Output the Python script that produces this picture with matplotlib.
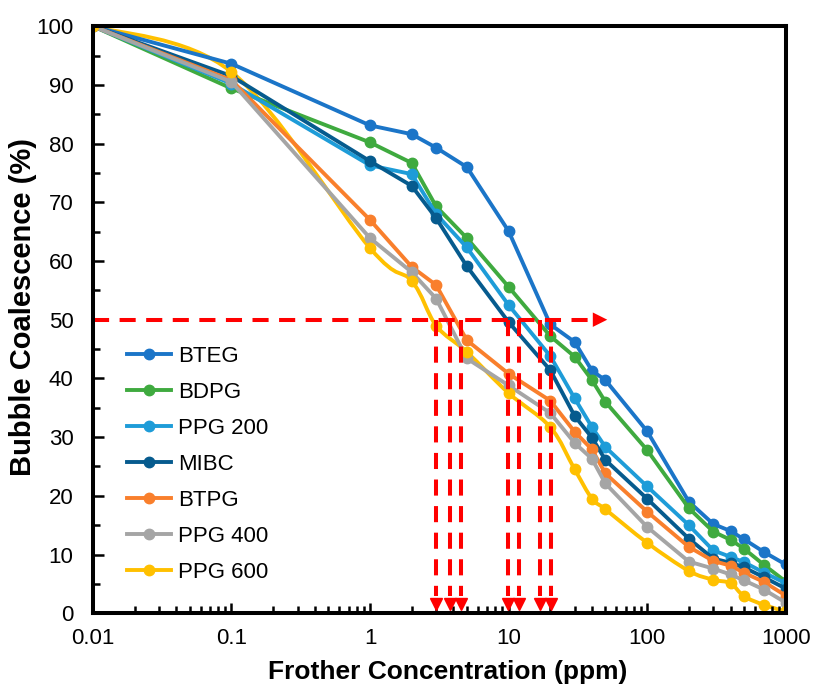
import numpy as np
import matplotlib
matplotlib.use('Agg')
import matplotlib.pyplot as plt
from matplotlib.path import Path
from matplotlib.patches import PathPatch

plt.rcParams['font.family'] = ['Liberation Sans', 'DejaVu Sans']

# концентрации (ppm)
conc = [0.01, 0.1, 1, 2, 3, 5, 10, 20, 30, 40, 50, 100, 200, 300, 400, 500, 700, 1000]

bteg = [100, 93.6, 83.1, 81.6, 79.3, 76.0, 65.1, 49.2, 46.2, 41.3, 39.7, 31.0, 19.0, 15.2, 14.0, 12.6, 10.4, 8.3]
bdpg = [100, 89.4, 80.2, 76.7, 69.3, 63.9, 55.6, 47.2, 43.7, 39.7, 36.0, 27.8, 17.9, 13.9, 12.5, 11.0, 8.2, 5.4]
ppg200 = [100, 90.2, 76.3, 74.8, 68.0, 62.3, 52.5, 43.8, 36.6, 31.7, 28.3, 21.6, 15.0, 10.7, 9.6, 8.7, 6.9, 5.1]
mibc = [100, 91.5, 77.0, 72.8, 67.3, 59.1, 49.6, 41.4, 33.6, 29.9, 26.1, 19.5, 12.7, 9.3, 8.6, 7.8, 6.1, 4.2]
btpg = [100, 90.8, 67.0, 59.0, 55.9, 46.5, 40.8, 36.2, 30.9, 27.9, 23.8, 17.3, 11.3, 8.9, 8.1, 6.9, 5.3, 3.0]
ppg400 = [100, 90.5, 63.9, 58.1, 53.6, 43.4, 38.8, 34.1, 29.0, 26.3, 22.1, 14.7, 8.8, 7.6, 6.6, 5.6, 4.0, 1.8]
ppg600 = [100, 92.2, 62.2, 56.6, 49.0, 44.5, 37.5, 31.7, 24.5, 19.5, 17.7, 12.0, 7.2, 5.7, 5.1, 2.9, 1.4, 0.3]

names = ['BTEG', 'BDPG', 'PPG 200', 'MIBC', 'BTPG', 'PPG 400', 'PPG 600']
colors = ['#1B75C8', '#3FAA3F', '#1E9CD8', '#065B8E', '#F97F2C', '#A5A5A5', '#FFC000']

# концентрации при 50 % коалесценции
c50 = [3.0, 3.8, 4.5, 9.9, 11.8, 16.8, 20.3]


def smooth_path(x, y):
    """Сглаженная линия как в Excel (Безье в лог-координатах по x)"""
    X = np.log10(x)
    Y = np.array(y, dtype=float)
    n = len(X)
    verts = [(x[0], Y[0])]
    codes = [Path.MOVETO]
    for i in range(n - 1):
        a = max(i - 1, 0)
        b = min(i + 2, n - 1)
        c1 = (X[i] + (X[i + 1] - X[a]) / 6, Y[i] + (Y[i + 1] - Y[a]) / 6)
        c2 = (X[i + 1] - (X[b] - X[i]) / 6, Y[i + 1] - (Y[b] - Y[i]) / 6)
        verts += [(10 ** c1[0], c1[1]), (10 ** c2[0], c2[1]), (x[i + 1], Y[i + 1])]
        codes += [Path.CURVE4] * 3
    return Path(verts, codes)


fig = plt.figure(figsize=(8.15, 6.89), dpi=100)
ax = fig.add_axes([0.114, 0.110, 0.850, 0.852])

lw = 2.8
ms = 7.5
series = [bteg, bdpg, ppg200, mibc, btpg, ppg400, ppg600]
for vals, name, col in zip(series, names, colors):
    if name == 'PPG 600':
        ax.add_patch(PathPatch(smooth_path(conc, vals), fill=False, edgecolor=col,
                               linewidth=lw, transform=ax.transData))
        ax.plot(conc, vals, 'o', color=col, markersize=ms)
        ax.plot([], [], 'o-', color=col, label=name, linewidth=lw, markersize=ms)
    else:
        ax.plot(conc, vals, 'o-', color=col, label=name, linewidth=lw, markersize=ms)

# красные стрелки на уровне 50 %
dash = (4.0, 2.6)
ax.plot([0.01, 44], [50, 50], color='red', linewidth=2.9, dashes=dash)
ax.annotate('', xy=(54, 50), xytext=(38, 50),
            arrowprops=dict(arrowstyle='-|>', color='red', lw=0, mutation_scale=26))
for c in c50:
    ax.plot([c, c], [50, 3], color='red', linewidth=2.9, dashes=dash)
    ax.plot([c], [1.6], 'v', color='red', markersize=9)

ax.set_xscale('log')
ax.set_xlim(0.01, 1000)
ax.set_ylim(0, 100)
ax.set_yticks(range(0, 101, 10))
ax.set_yticks(range(5, 100, 10), minor=True)
ax.set_xticks([0.01, 0.1, 1, 10, 100, 1000])
ax.set_xticklabels(['0.01', '0.1', '1', '10', '100', '1000'])

ax.tick_params(which='both', direction='in', top=False, right=False, labelsize=16, width=1.8)
ax.tick_params(axis='x', which='major', length=7, pad=11)
ax.tick_params(axis='y', which='major', length=8, pad=14)
ax.tick_params(which='minor', length=5)
for s in ax.spines.values():
    s.set_linewidth(2.9)

ax.set_xlabel('Frother Concentration (ppm)', fontsize=19, fontweight='bold')
ax.set_ylabel('Bubble Coalescence (%)', fontsize=21, fontweight='bold')
ax.xaxis.set_label_coords(0.512, -0.080)
ax.yaxis.set_label_coords(-0.080, 0.522)

ax.legend(loc='upper left', bbox_to_anchor=(0.02, 0.49), frameon=False, fontsize=16,
          handlelength=2.0, labelspacing=0.68, handletextpad=0.3)

plt.savefig('out.png', dpi=100)
